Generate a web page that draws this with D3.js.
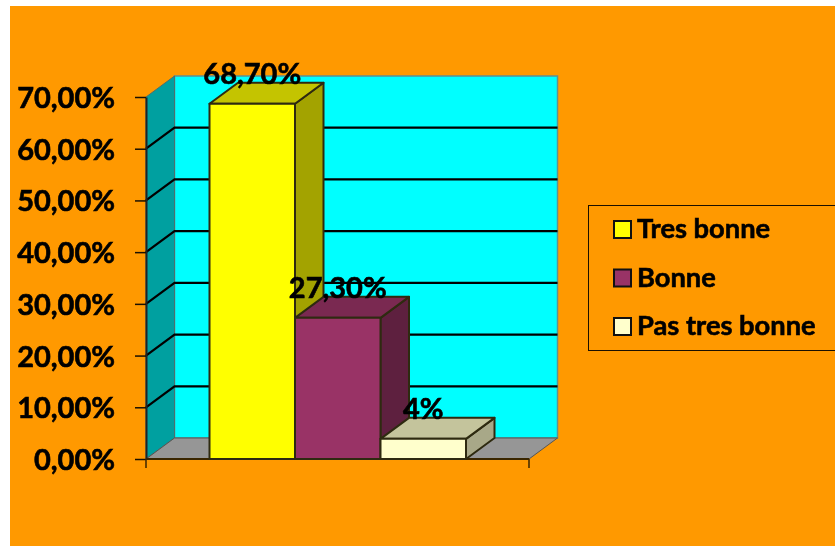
<!DOCTYPE html>
<html lang="fr">

<head>
    <meta charset="UTF-8">
    <title>Appreciation</title>
    <script src="https://d3js.org/d3.v7.min.js"></script>
    <style>
        html, body {
            margin: 0;
            background: #fff;
        }

        svg {
            display: block;
            filter: blur(0.35px);
        }

        text {
            font-family: Lato, sans-serif;
            font-weight: 700;
            fill: #000;
            stroke: #000;
            stroke-width: 0.6px;
        }
    </style>
</head>

<body>
    <div id="chart"></div>

    <script>
        // Values
        const series = ["Tres bonne", "Bonne", "Pas tres bonne"];
        const values = [68.7, 27.3, 3.9];
        const valueLabels = ["68,70%", "27,30%", "4%"];
        const tickValues = [0, 10, 20, 30, 40, 50, 60, 70];

        const fronts = ["#ffff00", "#993366", "#ffffcc"];
        const tops = ["#c4c400", "#7a2951", "#c4c49c"];
        const sides = ["#a3a300", "#5e203f", "#a8a888"];

        const width = 835, height = 546;
        const depthX = 28.5, depthY = 21;

        const svg = d3.select("#chart")
            .append("svg")
            .attr("width", width)
            .attr("height", height);

        // Orange background
        svg.append("rect")
            .attr("x", 10)
            .attr("y", 6)
            .attr("width", width - 10 + 5)
            .attr("height", height - 6 + 5)
            .attr("fill", "#ff9900");

        const x = d3.scaleBand().domain(series).range([209.5, 466]);
        const y = d3.scaleLinear().domain([0, 70]).range([459, 97]);

        const left = 146, right = 529;
        const yTop = y(70), yBase = y(0);

        const poly = pts => pts.map(p => p.join(",")).join(" ");

        // Back wall, side wall and floor
        svg.append("polygon")
            .attr("points", poly([[left + depthX, yTop - depthY], [right + depthX, yTop - depthY], [right + depthX, yBase - depthY], [left + depthX, yBase - depthY]]))
            .attr("fill", "#00ffff")
            .attr("stroke", "#5f9090")
            .attr("stroke-width", 1.5);

        svg.append("polygon")
            .attr("points", poly([[left, yTop], [left + depthX, yTop - depthY], [left + depthX, yBase - depthY], [left, yBase]]))
            .attr("fill", "#00a0a0")
            .attr("stroke", "#4d6f6f")
            .attr("stroke-width", 1);

        svg.append("polygon")
            .attr("points", poly([[left, yBase], [left + depthX, yBase - depthY], [right + depthX, yBase - depthY], [right, yBase]]))
            .attr("fill", "#969696")
            .attr("stroke", "#555")
            .attr("stroke-width", 1);

        // Gridlines on both walls
        svg.append("g")
            .selectAll("polyline")
            .data(tickValues.filter(d => d > 0 && d < 70))
            .enter()
            .append("polyline")
            .attr("points", d => poly([[left, y(d)], [left + depthX, y(d) - depthY], [right + depthX, y(d) - depthY]]))
            .attr("fill", "none")
            .attr("stroke", "#000")
            .attr("stroke-width", 2.2);

        // Axes
        const yAxis = svg.append("g")
            .attr("transform", `translate(${left},0)`)
            .call(d3.axisLeft(y)
                .tickValues(tickValues)
                .tickSize(11)
                .tickSizeOuter(0)
                .tickPadding(20)
                .tickFormat(d => d3.format(".2f")(d).replace(".", ",") + "%"));
        yAxis.selectAll("line").attr("stroke", "#1a1000").attr("stroke-width", 1.5);
        yAxis.select(".domain").attr("stroke", "#222").attr("stroke-width", 2);
        yAxis.selectAll("text").style("font-size", "29px").attr("fill", "#000").attr("dy", "0.36em");

        const xAxis = svg.append("g")
            .attr("transform", `translate(0,${yBase})`);
        xAxis.append("line")
            .attr("x1", left).attr("x2", right)
            .attr("stroke", "#3a2600").attr("stroke-width", 2);
        xAxis.selectAll(".end")
            .data([left, right])
            .enter()
            .append("line")
            .attr("class", "end")
            .attr("x1", d => d).attr("x2", d => d)
            .attr("y1", 0).attr("y2", 9)
            .attr("stroke", "#3a2600").attr("stroke-width", 1.5);

        // 3D bars, left to right so each one overlaps the previous side
        const bars = svg.append("g")
            .selectAll("g")
            .data(series)
            .enter()
            .append("g")
            .attr("stroke", "#2e2a10")
            .attr("stroke-width", 2)
            .attr("stroke-linejoin", "round");

        bars.append("polygon")
            .attr("points", (d, i) => {
                const x1 = x(d) + x.bandwidth(), t = y(values[i]);
                return poly([[x1, t], [x1 + depthX, t - depthY], [x1 + depthX, yBase - depthY], [x1, yBase]]);
            })
            .attr("fill", (d, i) => sides[i]);

        bars.append("polygon")
            .attr("points", (d, i) => {
                const x0 = x(d), x1 = x0 + x.bandwidth(), t = y(values[i]);
                return poly([[x0, t], [x0 + depthX, t - depthY], [x1 + depthX, t - depthY], [x1, t]]);
            })
            .attr("fill", (d, i) => tops[i]);

        bars.append("rect")
            .attr("x", d => x(d))
            .attr("y", (d, i) => y(values[i]))
            .attr("width", x.bandwidth())
            .attr("height", (d, i) => yBase - y(values[i]))
            .attr("fill", (d, i) => fronts[i]);

        // Value labels
        svg.append("g")
            .selectAll("text")
            .data(series)
            .enter()
            .append("text")
            .attr("x", d => x(d) + x.bandwidth() / 2)
            .attr("y", (d, i) => y(values[i]) - 20)
            .attr("text-anchor", "middle")
            .style("font-size", "29px")
            .text((d, i) => valueLabels[i]);

        // Legend
        const legend = svg.append("g");
        legend.append("rect")
            .attr("x", 588.5)
            .attr("y", 205.5)
            .attr("width", 250)
            .attr("height", 145)
            .attr("fill", "none")
            .attr("stroke", "#1a1000")
            .attr("stroke-width", 1);

        const legendY = d3.scalePoint().domain(series).range([229, 326]);

        const rows = legend.selectAll(".row")
            .data(series)
            .enter()
            .append("g")
            .attr("class", "row")
            .attr("transform", d => `translate(0,${legendY(d)})`);

        rows.append("rect")
            .attr("x", 614)
            .attr("y", -8)
            .attr("width", 17)
            .attr("height", 17)
            .attr("fill", (d, i) => fronts[i])
            .attr("stroke", "#111")
            .attr("stroke-width", 2);

        rows.append("text")
            .attr("x", 637)
            .attr("y", 9)
            .style("font-size", "27.3px")
            .text(d => d);
    </script>
</body>

</html>
